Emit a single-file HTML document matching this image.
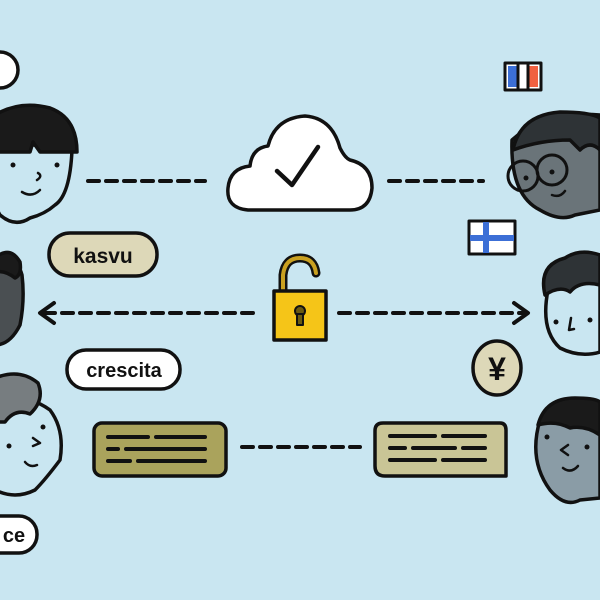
<!DOCTYPE html>
<html><head><style>html,body{margin:0;padding:0;background:#c9e6f1;}svg{display:block}</style></head>
<body>
<svg width="600" height="600" viewBox="0 0 600 600" xmlns="http://www.w3.org/2000/svg" font-family="Liberation Sans, sans-serif">
<rect width="600" height="600" fill="#c9e6f1"/>
<g stroke="#111" stroke-width="3.5" stroke-linecap="round" stroke-linejoin="round">
<circle cx="0" cy="70" r="18" fill="#fff"/>
<!-- face 1 -->
<path d="M-5 140 Q-10 200 0 215 Q15 228 30 218 Q45 214 55 205 Q70 195 72 150 Z" fill="#c9e6f1"/>
<path d="M-5 115 Q20 100 50 108 Q77 118 77 152 L40 152 L33 142 L30 152 L-5 152 Z" fill="#1a1a1a"/>
<circle cx="13" cy="165" r="2.5" fill="#111" stroke="none"/><circle cx="57" cy="165" r="2.5" fill="#111" stroke="none"/>
<path d="M38 173 q5 3 -1 7" fill="none" stroke-width="2.5"/>
<path d="M22 192 q10 6 18 -2" fill="none" stroke-width="2.5"/>
<line x1="88" y1="181" x2="205" y2="181" stroke-dasharray="11 7" stroke-width="4"/>
<line x1="389" y1="181" x2="483" y2="181" stroke-dasharray="11 7" stroke-width="4"/>
<!-- cloud -->
<path d="M248 210 Q226 208 228 188 Q230 168 250 166 Q252 148 268 146 Q275 118 305 116 Q332 118 340 148 Q345 158 350 160 Q372 165 372 188 Q370 210 350 210 Z" fill="#fff"/>
<path d="M277 171 L292 185 L318 147" fill="none" stroke-width="4.5"/>
<!-- face top-right -->
<path d="M512 140 Q510 195 540 210 Q560 222 575 215 L600 210 L600 115 Q560 112 530 125 Z" fill="#6a7479"/>
<path d="M513 150 Q520 115 560 112 Q590 112 600 118 L600 150 Q590 140 580 150 L570 140 Q540 140 513 150 Z" fill="#2e3336"/>
<circle cx="523" cy="176" r="15" fill="none" stroke-width="3"/><circle cx="552" cy="170" r="15" fill="none" stroke-width="3"/>
<circle cx="526" cy="178" r="2.5" fill="#111" stroke="none"/><circle cx="552" cy="172" r="2.5" fill="#111" stroke="none"/>
<path d="M552 195 q8 3 13 -4" fill="none" stroke-width="2.5"/>
<!-- France flag -->
<rect x="505" y="63" width="36" height="27" fill="#fff" stroke-width="3"/>
<rect x="508" y="66" width="9" height="21" fill="#3c6fd6" stroke="none"/>
<rect x="529" y="66" width="9" height="21" fill="#f06040" stroke="none"/>
<line x1="518" y1="64" x2="518" y2="89" stroke-width="3"/><line x1="528" y1="64" x2="528" y2="89" stroke-width="3"/>
<rect x="49" y="233" width="108" height="43" rx="21" fill="#ddd8b8"/>
<!-- Finland flag -->
<rect x="469" y="221" width="46" height="33" fill="#fff" stroke-width="3"/>
<rect x="483" y="222" width="6" height="31" fill="#3c6fd6" stroke="none"/>
<rect x="470" y="235" width="44" height="6" fill="#3c6fd6" stroke="none"/>
<!-- face left dark -->
<path d="M-5 265 Q15 250 22 275 Q25 300 20 325 Q10 345 -5 345 Z" fill="#4a4f52"/>
<path d="M-5 258 Q10 245 20 262 Q22 275 15 278 Q5 270 -5 272 Z" fill="#1a1a1a"/>
<!-- arrows -->
<line x1="44" y1="313" x2="258" y2="313" stroke-dasharray="11 7" stroke-width="4"/>
<path d="M54 303 L40 313 L54 323" fill="none" stroke-width="4"/>
<line x1="339" y1="313" x2="524" y2="313" stroke-dasharray="11 7" stroke-width="4"/>
<path d="M514 303 L528 313 L514 323" fill="none" stroke-width="4"/>
<!-- lock -->
<path d="M283 292 L283 275 Q285 258 300 258 Q314 258 316 273" fill="none" stroke="#111" stroke-width="9"/>
<path d="M283 292 L283 275 Q285 258 300 258 Q314 258 316 273" fill="none" stroke="#c9a020" stroke-width="4"/>
<rect x="274" y="291" width="52" height="49" fill="#f5c518"/>
<circle cx="300" cy="311" r="5" fill="#6b5a10" stroke="#111" stroke-width="2"/>
<rect x="297" y="314" width="6" height="11" fill="#6b5a10" stroke="#111" stroke-width="2"/>
<!-- face right light -->
<path d="M548 290 Q540 330 560 348 Q580 358 600 352 L600 275 Z" fill="#c9e6f1"/>
<path d="M545 295 Q538 265 565 258 Q580 248 600 255 L600 285 Q580 280 570 292 Q560 285 545 295 Z" fill="#2e3336"/>
<circle cx="556" cy="322" r="2.5" fill="#111" stroke="none"/><circle cx="590" cy="320" r="2.5" fill="#111" stroke="none"/>
<path d="M571 318 l-2 12 l5 -1" fill="none" stroke-width="2.5"/>
<rect x="67" y="350" width="113" height="39" rx="19" fill="#fff"/>
<ellipse cx="497" cy="368" rx="24" ry="27" fill="#ddd8b8"/>
<!-- face left bottom -->
<path d="M-5 395 Q30 395 50 410 Q65 430 60 460 Q45 480 35 490 Q15 500 -5 490 Z" fill="#c9e6f1"/>
<path d="M-5 378 Q20 368 38 383 Q45 400 30 414 Q15 408 5 422 L-5 422 Z" fill="#777d80"/>
<circle cx="43" cy="427" r="2.5" fill="#111" stroke="none"/><circle cx="9" cy="446" r="2.5" fill="#111" stroke="none"/>
<path d="M33 438 l7 5 l-7 3" fill="none" stroke-width="2.5"/>
<path d="M25 462 q5 6 12 3" fill="none" stroke-width="2.5"/>
<!-- message boxes -->
<rect x="94" y="423" width="132" height="53" rx="8" fill="#aaa35c"/>
<g stroke-width="4">
<line x1="108" y1="437" x2="148" y2="437"/><line x1="156" y1="437" x2="205" y2="437"/>
<line x1="108" y1="449" x2="118" y2="449"/><line x1="126" y1="449" x2="205" y2="449"/>
<line x1="108" y1="461" x2="130" y2="461"/><line x1="138" y1="461" x2="205" y2="461"/>
</g>
<line x1="242" y1="447" x2="360" y2="447" stroke-dasharray="11 7" stroke-width="4"/>
<path d="M383 423 L500 423 Q506 423 506 430 L506 476 L385 476 Q375 476 375 466 L375 431 Q375 423 383 423 Z" fill="#c9c596"/>
<g stroke-width="4">
<line x1="390" y1="436" x2="435" y2="436"/><line x1="443" y1="436" x2="485" y2="436"/>
<line x1="390" y1="448" x2="405" y2="448"/><line x1="413" y1="448" x2="455" y2="448"/><line x1="463" y1="448" x2="485" y2="448"/>
<line x1="390" y1="460" x2="435" y2="460"/><line x1="443" y1="460" x2="485" y2="460"/>
</g>
<!-- face right bottom -->
<path d="M540 420 Q528 460 550 490 Q565 508 580 500 L600 498 L600 405 Q570 400 540 420 Z" fill="#8a9ca6"/>
<path d="M538 425 Q545 398 575 398 Q595 398 600 402 L600 435 Q585 425 570 428 Q555 420 538 425 Z" fill="#1a1a1a"/>
<circle cx="547" cy="437" r="2.5" fill="#111" stroke="none"/><circle cx="587" cy="447" r="2.5" fill="#111" stroke="none"/>
<path d="M568 445 l-7 5 l7 5" fill="none" stroke-width="2.5"/>
<path d="M563 468 q8 6 15 -2" fill="none" stroke-width="2.5"/>
<rect x="-20" y="516" width="57" height="37" rx="18" fill="#fff"/>
</g>
<g font-weight="bold" fill="#111" text-anchor="middle">
<text x="103" y="263" font-size="21">kasvu</text>
<text x="124" y="377" font-size="20">crescita</text>
<text x="14" y="542" font-size="20">ce</text>
<text x="497" y="380" font-size="32">¥</text>
</g>
</svg>
</body></html>
